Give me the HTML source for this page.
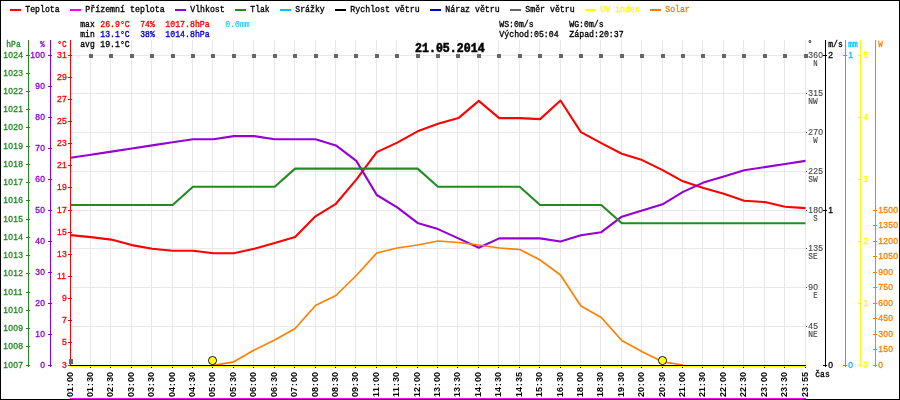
<!DOCTYPE html>
<html lang="cs"><head><meta charset="utf-8"><title>21.05.2014</title>
<style>html,body{margin:0;padding:0;background:#fff;width:900px;height:400px;overflow:hidden}svg{display:block}text{font-family:"Liberation Mono","DejaVu Sans Mono",monospace;font-size:9.4px;stroke-width:.35px;white-space:pre}.b{font-weight:bold;stroke-width:0}.n{font-family:"Liberation Sans","DejaVu Sans",sans-serif;font-size:8.5px;letter-spacing:.27px;stroke-width:.3px}.n.b{font-size:9px;letter-spacing:0;stroke-width:0}</style></head><body>
<svg width="900" height="400" viewBox="0 0 900 400">
<rect x="0" y="0" width="900" height="400" fill="#fff"/>
<path d="M90.5 40V365M110.5 40V365M131.5 40V365M151.5 40V365M172.5 40V365M192.5 40V365M212.5 40V365M233.5 40V365M253.5 40V365M274.5 40V365M294.5 40V365M315.5 40V365M335.5 40V365M355.5 40V365M376.5 40V365M396.5 40V365M417.5 40V365M437.5 40V365M457.5 40V365M478.5 40V365M498.5 40V365M519.5 40V365M539.5 40V365M560.5 40V365M580.5 40V365M600.5 40V365M621.5 40V365M641.5 40V365M662.5 40V365M682.5 40V365M702.5 40V365M723.5 40V365M743.5 40V365M764.5 40V365M784.5 40V365M805.5 40V365M70 55.5H806M70 93.5H806M70 132.5H806M70 171.5H806M70 210.5H806M70 248.5H806M70 287.5H806M70 326.5H806" stroke="#ebe6e7" stroke-width="1" fill="none" shape-rendering="crispEdges"/>
<rect x="70" y="398" width="736" height="1" fill="#ff00ff"/>
<polyline points="70.5,235.1 90.9,237.1 111.3,239.6 131.8,245.1 152.2,248.8 172.6,250.8 193.0,250.8 213.4,253.3 233.8,253.3 254.2,248.8 274.7,243.1 295.1,237.1 315.5,216.3 335.9,203.8 356.3,179.6 376.8,152.1 397.2,142.6 417.6,131.3 438.0,123.8 458.4,118.1 478.8,100.9 499.2,118.1 519.7,118.1 540.1,119.1 560.5,100.5 580.9,132.1 601.3,143.1 621.8,153.8 642.2,160.1 662.6,170.1 683.0,181.3 703.4,188.1 723.8,193.8 744.2,200.8 764.7,202.1 785.1,206.8 805.5,208.1" fill="none" stroke="#ff0000" stroke-width="2.1" stroke-linejoin="round"/>
<polyline points="70.5,157.8 90.9,154.7 111.3,151.6 131.8,148.5 152.2,145.4 172.6,142.3 193.0,139.2 213.4,139.2 233.8,136.1 254.2,136.1 274.7,139.2 295.1,139.2 315.5,139.2 335.9,145.4 356.3,160.9 376.8,195.0 397.2,207.4 417.6,222.9 438.0,229.1 458.4,238.4 478.8,247.7 499.2,238.4 519.7,238.4 540.1,238.4 560.5,241.5 580.9,235.3 601.3,232.2 621.8,216.7 642.2,210.5 662.6,204.3 683.0,191.9 703.4,182.6 723.8,176.4 744.2,170.2 764.7,167.1 785.1,164.0 805.5,160.9" fill="none" stroke="#9400d3" stroke-width="2.1" stroke-linejoin="round"/>
<polyline points="70.5,205.0 90.9,205.0 111.3,205.0 131.8,205.0 152.2,205.0 172.6,205.0 193.0,186.8 213.4,186.8 233.8,186.8 254.2,186.8 274.7,186.8 295.1,168.6 315.5,168.6 335.9,168.6 356.3,168.6 376.8,168.6 397.2,168.6 417.6,168.6 438.0,186.8 458.4,186.8 478.8,186.8 499.2,186.8 519.7,186.8 540.1,205.0 560.5,205.0 580.9,205.0 601.3,205.0 621.8,223.3 642.2,223.3 662.6,223.3 683.0,223.3 703.4,223.3 723.8,223.3 744.2,223.3 764.7,223.3 785.1,223.3 805.5,223.3" fill="none" stroke="#228b22" stroke-width="2.1" stroke-linejoin="round"/>
<polyline points="213.4,365.3 233.8,361.8 254.2,350.0 274.7,340.0 295.1,328.5 315.5,305.5 335.9,295.5 356.3,275.5 376.8,253.0 397.2,248.0 417.6,245.0 438.0,241.0 458.4,242.5 478.8,245.0 499.2,248.0 519.7,249.5 540.1,260.0 560.5,275.0 580.9,306.0 601.3,317.5 621.8,340.5 642.2,351.8 662.6,361.8 683.0,365.0" fill="none" stroke="#ff7f00" stroke-width="1.7" stroke-linejoin="round"/>
<path d="M90 367h1v1h-1zM110 367h1v1h-1zM131 367h1v1h-1zM151 367h1v1h-1zM172 367h1v1h-1zM192 367h1v1h-1zM212 367h1v1h-1zM233 367h1v1h-1zM253 367h1v1h-1zM274 367h1v1h-1zM294 367h1v1h-1zM315 367h1v1h-1zM335 367h1v1h-1zM355 367h1v1h-1zM376 367h1v1h-1zM396 367h1v1h-1zM417 367h1v1h-1zM437 367h1v1h-1zM457 367h1v1h-1zM478 367h1v1h-1zM498 367h1v1h-1zM519 367h1v1h-1zM539 367h1v1h-1zM560 367h1v1h-1zM580 367h1v1h-1zM600 367h1v1h-1zM621 367h1v1h-1zM641 367h1v1h-1zM662 367h1v1h-1zM682 367h1v1h-1zM702 367h1v1h-1zM723 367h1v1h-1zM743 367h1v1h-1zM764 367h1v1h-1zM784 367h1v1h-1zM805 367h1v1h-1z" fill="#000" shape-rendering="crispEdges"/>
<circle cx="212.5" cy="360.5" r="4" fill="#fff" stroke="#000" stroke-width="1"/><circle cx="212.5" cy="360.5" r="3.1" fill="#ffff00"/>
<circle cx="662.5" cy="360.5" r="4" fill="#fff" stroke="#000" stroke-width="1"/><circle cx="662.5" cy="360.5" r="3.1" fill="#ffff00"/>
<path d="M28.5 40V367M26 365.5H30M26 346.5H30M26 328.5H30M26 310.5H30M26 292.5H30M26 273.5H30M26 255.5H30M26 237.5H30M26 219.5H30M26 200.5H30M26 182.5H30M26 164.5H30M26 146.5H30M26 127.5H30M26 109.5H30M26 91.5H30M26 73.5H30M26 55.5H30" stroke="#228b22" stroke-width="1" fill="none" shape-rendering="crispEdges"/>
<text x="3.3" y="368" fill="#228b22" stroke="#228b22" class="n">1007</text>
<text x="3.3" y="349" fill="#228b22" stroke="#228b22" class="n">1008</text>
<text x="3.3" y="331" fill="#228b22" stroke="#228b22" class="n">1009</text>
<text x="3.3" y="313" fill="#228b22" stroke="#228b22" class="n">1010</text>
<text x="3.3" y="295" fill="#228b22" stroke="#228b22" class="n">1011</text>
<text x="3.3" y="276" fill="#228b22" stroke="#228b22" class="n">1012</text>
<text x="3.3" y="258" fill="#228b22" stroke="#228b22" class="n">1013</text>
<text x="3.3" y="240" fill="#228b22" stroke="#228b22" class="n">1014</text>
<text x="3.3" y="222" fill="#228b22" stroke="#228b22" class="n">1015</text>
<text x="3.3" y="203" fill="#228b22" stroke="#228b22" class="n">1016</text>
<text x="3.3" y="185" fill="#228b22" stroke="#228b22" class="n">1017</text>
<text x="3.3" y="167" fill="#228b22" stroke="#228b22" class="n">1018</text>
<text x="3.3" y="149" fill="#228b22" stroke="#228b22" class="n">1019</text>
<text x="3.3" y="130" fill="#228b22" stroke="#228b22" class="n">1020</text>
<text x="3.3" y="112" fill="#228b22" stroke="#228b22" class="n">1021</text>
<text x="3.3" y="94" fill="#228b22" stroke="#228b22" class="n">1022</text>
<text x="3.3" y="76" fill="#228b22" stroke="#228b22" class="n">1023</text>
<text x="3.3" y="58" fill="#228b22" stroke="#228b22" class="n">1024</text>
<path d="M50.5 40V367M48 365.5H52M48 334.5H52M48 303.5H52M48 272.5H52M48 241.5H52M48 210.5H52M48 179.5H52M48 148.5H52M48 117.5H52M48 86.5H52M48 55.5H52" stroke="#9400d3" stroke-width="1" fill="none" shape-rendering="crispEdges"/>
<text x="40.3" y="368" fill="#9400d3" stroke="#9400d3" class="n">0</text>
<text x="35.3" y="337" fill="#9400d3" stroke="#9400d3" class="n">10</text>
<text x="35.3" y="306" fill="#9400d3" stroke="#9400d3" class="n">20</text>
<text x="35.3" y="275" fill="#9400d3" stroke="#9400d3" class="n">30</text>
<text x="35.3" y="244" fill="#9400d3" stroke="#9400d3" class="n">40</text>
<text x="35.3" y="213" fill="#9400d3" stroke="#9400d3" class="n">50</text>
<text x="35.3" y="182" fill="#9400d3" stroke="#9400d3" class="n">60</text>
<text x="35.3" y="151" fill="#9400d3" stroke="#9400d3" class="n">70</text>
<text x="35.3" y="120" fill="#9400d3" stroke="#9400d3" class="n">80</text>
<text x="35.3" y="89" fill="#9400d3" stroke="#9400d3" class="n">90</text>
<text x="30.299999999999997" y="58" fill="#9400d3" stroke="#9400d3" class="n">100</text>
<path d="M70.5 40V367M68 365.5H72M68 342.5H72M68 320.5H72M68 298.5H72M68 276.5H72M68 254.5H72M68 232.5H72M68 210.5H72M68 187.5H72M68 165.5H72M68 143.5H72M68 121.5H72M68 99.5H72M68 77.5H72M68 55.5H72" stroke="#ff0000" stroke-width="1" fill="none" shape-rendering="crispEdges"/>
<text x="62" y="368" fill="#ff0000" stroke="#ff0000" class="n">3</text>
<text x="62" y="345" fill="#ff0000" stroke="#ff0000" class="n">5</text>
<text x="62" y="323" fill="#ff0000" stroke="#ff0000" class="n">7</text>
<text x="62" y="301" fill="#ff0000" stroke="#ff0000" class="n">9</text>
<text x="57" y="279" fill="#ff0000" stroke="#ff0000" class="n">11</text>
<text x="57" y="257" fill="#ff0000" stroke="#ff0000" class="n">13</text>
<text x="57" y="235" fill="#ff0000" stroke="#ff0000" class="n">15</text>
<text x="57" y="213" fill="#ff0000" stroke="#ff0000" class="n">17</text>
<text x="57" y="190" fill="#ff0000" stroke="#ff0000" class="n">19</text>
<text x="57" y="168" fill="#ff0000" stroke="#ff0000" class="n">21</text>
<text x="57" y="146" fill="#ff0000" stroke="#ff0000" class="n">23</text>
<text x="57" y="124" fill="#ff0000" stroke="#ff0000" class="n">25</text>
<text x="57" y="102" fill="#ff0000" stroke="#ff0000" class="n">27</text>
<text x="57" y="80" fill="#ff0000" stroke="#ff0000" class="n">29</text>
<text x="57" y="58" fill="#ff0000" stroke="#ff0000" class="n">31</text>
<text x="6.3" y="47" fill="#228b22" stroke="#228b22" textLength="14.4" lengthAdjust="spacingAndGlyphs">hPa</text>
<text x="40.3" y="47" fill="#9400d3" stroke="#9400d3" textLength="4.4" lengthAdjust="spacingAndGlyphs">%</text>
<text x="57.3" y="47" fill="#ff0000" stroke="#ff0000" textLength="9.4" lengthAdjust="spacingAndGlyphs">°C</text>
<path d="M825.5 40V367M823 55.5H827M823 210.5H827M823 365.5H827" stroke="#000000" stroke-width="1" fill="none" shape-rendering="crispEdges"/>
<text x="828.3" y="58" fill="#000000" stroke="#000000" class="n">2</text>
<text x="828.3" y="213" fill="#000000" stroke="#000000" class="n">1</text>
<text x="828.3" y="368" fill="#000000" stroke="#000000" class="n">0</text>
<path d="M845.5 40V367M843 55.5H847M843 365.5H847" stroke="#00bfff" stroke-width="1" fill="none" shape-rendering="crispEdges"/>
<text x="848.3" y="58" fill="#00bfff" stroke="#00bfff" class="n">1</text>
<text x="848.3" y="368" fill="#00bfff" stroke="#00bfff" class="n">0</text>
<path d="M860.5 40V367M858 365.5H862M858 303.5H862M858 241.5H862M858 179.5H862M858 117.5H862M858 55.5H862" stroke="#ffff00" stroke-width="1" fill="none" shape-rendering="crispEdges"/>
<text x="863.3" y="368" fill="#ffff00" stroke="#ffff00" class="n">0</text>
<text x="863.3" y="306" fill="#ffff00" stroke="#ffff00" class="n">1</text>
<text x="863.3" y="244" fill="#ffff00" stroke="#ffff00" class="n">2</text>
<text x="863.3" y="182" fill="#ffff00" stroke="#ffff00" class="n">3</text>
<text x="863.3" y="120" fill="#ffff00" stroke="#ffff00" class="n">4</text>
<text x="863.3" y="58" fill="#ffff00" stroke="#ffff00" class="n">5</text>
<path d="M875.5 40V367M873 365.5H877M873 349.5H877M873 334.5H877M873 318.5H877M873 303.5H877M873 287.5H877M873 272.5H877M873 256.5H877M873 241.5H877M873 225.5H877M873 210.5H877" stroke="#ff7f00" stroke-width="1" fill="none" shape-rendering="crispEdges"/>
<text x="878.3" y="368" fill="#ff7f00" stroke="#ff7f00" class="n">0</text>
<text x="878.3" y="352" fill="#ff7f00" stroke="#ff7f00" class="n">150</text>
<text x="878.3" y="337" fill="#ff7f00" stroke="#ff7f00" class="n">300</text>
<text x="878.3" y="321" fill="#ff7f00" stroke="#ff7f00" class="n">450</text>
<text x="878.3" y="306" fill="#ff7f00" stroke="#ff7f00" class="n">600</text>
<text x="878.3" y="290" fill="#ff7f00" stroke="#ff7f00" class="n">750</text>
<text x="878.3" y="275" fill="#ff7f00" stroke="#ff7f00" class="n">900</text>
<text x="878.3" y="259" fill="#ff7f00" stroke="#ff7f00" class="n">1050</text>
<text x="878.3" y="244" fill="#ff7f00" stroke="#ff7f00" class="n">1200</text>
<text x="878.3" y="228" fill="#ff7f00" stroke="#ff7f00" class="n">1350</text>
<text x="878.3" y="213" fill="#ff7f00" stroke="#ff7f00" class="n">1500</text>
<text x="828.3" y="47" fill="#000000" stroke="#000000" textLength="14.4" lengthAdjust="spacingAndGlyphs">m/s</text>
<text x="848.3" y="47" fill="#00bfff" stroke="#00bfff" textLength="9.4" lengthAdjust="spacingAndGlyphs">mm</text>
<text x="878.3" y="47" fill="#ff7f00" stroke="#ff7f00" textLength="4.4" lengthAdjust="spacingAndGlyphs">W</text>
<text x="808.3" y="58" fill="#444444" stroke="#444444" class="n" style="stroke-width:.12px">360</text>
<text x="813.3" y="66" fill="#444444" stroke="#444444" textLength="4.4" lengthAdjust="spacingAndGlyphs" style="stroke-width:.15px">N</text>
<text x="808.3" y="96" fill="#444444" stroke="#444444" class="n" style="stroke-width:.12px">315</text>
<text x="808.3" y="104" fill="#444444" stroke="#444444" textLength="9.4" lengthAdjust="spacingAndGlyphs" style="stroke-width:.15px">NW</text>
<text x="808.3" y="135" fill="#444444" stroke="#444444" class="n" style="stroke-width:.12px">270</text>
<text x="813.3" y="143" fill="#444444" stroke="#444444" textLength="4.4" lengthAdjust="spacingAndGlyphs" style="stroke-width:.15px">W</text>
<text x="808.3" y="174" fill="#444444" stroke="#444444" class="n" style="stroke-width:.12px">225</text>
<text x="808.3" y="182" fill="#444444" stroke="#444444" textLength="9.4" lengthAdjust="spacingAndGlyphs" style="stroke-width:.15px">SW</text>
<text x="808.3" y="213" fill="#444444" stroke="#444444" class="n" style="stroke-width:.12px">180</text>
<text x="813.3" y="221" fill="#444444" stroke="#444444" textLength="4.4" lengthAdjust="spacingAndGlyphs" style="stroke-width:.15px">S</text>
<text x="808.3" y="251" fill="#444444" stroke="#444444" class="n" style="stroke-width:.12px">135</text>
<text x="808.3" y="259" fill="#444444" stroke="#444444" textLength="9.4" lengthAdjust="spacingAndGlyphs" style="stroke-width:.15px">SE</text>
<text x="808.3" y="290" fill="#444444" stroke="#444444" class="n" style="stroke-width:.12px">90</text>
<text x="813.3" y="298" fill="#444444" stroke="#444444" textLength="4.4" lengthAdjust="spacingAndGlyphs" style="stroke-width:.15px">E</text>
<text x="808.3" y="329" fill="#444444" stroke="#444444" class="n" style="stroke-width:.12px">45</text>
<text x="808.3" y="337" fill="#444444" stroke="#444444" textLength="9.4" lengthAdjust="spacingAndGlyphs" style="stroke-width:.15px">NE</text>
<path d="M806 93h1v1h-1zM806 132h1v1h-1zM806 171h1v1h-1zM806 210h1v1h-1zM806 248h1v1h-1zM806 287h1v1h-1zM806 326h1v1h-1z" fill="#333" shape-rendering="crispEdges"/>
<text x="808.3" y="46.6" class="n" fill="#444444" stroke="#444444">°</text>
<rect x="70" y="366" width="736" height="1" fill="#ffff00"/>
<rect x="70" y="365" width="736" height="1" fill="#000"/>
<path d="M89 54h4v4h-4zM109 54h4v4h-4zM130 54h4v4h-4zM150 54h4v4h-4zM171 54h4v4h-4zM191 54h4v4h-4zM211 54h4v4h-4zM232 54h4v4h-4zM252 54h4v4h-4zM273 54h4v4h-4zM293 54h4v4h-4zM314 54h4v4h-4zM334 54h4v4h-4zM354 54h4v4h-4zM375 54h4v4h-4zM395 54h4v4h-4zM416 54h4v4h-4zM436 54h4v4h-4zM456 54h4v4h-4zM477 54h4v4h-4zM497 54h4v4h-4zM518 54h4v4h-4zM538 54h4v4h-4zM559 54h4v4h-4zM579 54h4v4h-4zM599 54h4v4h-4zM620 54h4v4h-4zM640 54h4v4h-4zM661 54h4v4h-4zM681 54h4v4h-4zM701 54h4v4h-4zM722 54h4v4h-4zM742 54h4v4h-4zM763 54h4v4h-4zM783 54h4v4h-4zM804 54h4v4h-4zM69 359h4v5h-4z" fill="#666666" shape-rendering="crispEdges"/>
<rect x="10" y="9" width="11" height="2" fill="#ff0000"/>
<text x="25.3" y="12" fill="#000000" stroke="#000000" textLength="34.4" lengthAdjust="spacingAndGlyphs">Teplota</text>
<rect x="70" y="9" width="11" height="2" fill="#ff00ff"/>
<text x="85.3" y="12" fill="#000000" stroke="#000000" textLength="79.4" lengthAdjust="spacingAndGlyphs">Přízemní teplota</text>
<rect x="175" y="9" width="11" height="2" fill="#9400d3"/>
<text x="190.3" y="12" fill="#000000" stroke="#000000" textLength="34.4" lengthAdjust="spacingAndGlyphs">Vlhkost</text>
<rect x="235" y="9" width="11" height="2" fill="#228b22"/>
<text x="250.3" y="12" fill="#000000" stroke="#000000" textLength="19.4" lengthAdjust="spacingAndGlyphs">Tlak</text>
<rect x="280" y="9" width="11" height="2" fill="#00bfff"/>
<text x="295.3" y="12" fill="#000000" stroke="#000000" textLength="29.4" lengthAdjust="spacingAndGlyphs">Srážky</text>
<rect x="335" y="9" width="11" height="2" fill="#000000"/>
<text x="350.3" y="12" fill="#000000" stroke="#000000" textLength="69.4" lengthAdjust="spacingAndGlyphs">Rychlost větru</text>
<rect x="430" y="9" width="11" height="2" fill="#0000cd"/>
<text x="445.3" y="12" fill="#000000" stroke="#000000" textLength="54.4" lengthAdjust="spacingAndGlyphs">Náraz větru</text>
<rect x="510" y="9" width="11" height="2" fill="#666666"/>
<text x="525.3" y="12" fill="#000000" stroke="#000000" textLength="49.4" lengthAdjust="spacingAndGlyphs">Směr větru</text>
<rect x="585" y="9" width="11" height="2" fill="#ffff00"/>
<text x="600.3" y="12" fill="#ffff00" stroke="#ffff00" textLength="39.4" lengthAdjust="spacingAndGlyphs">UV index</text>
<rect x="650" y="9" width="11" height="2" fill="#ff7f00"/>
<text x="665.3" y="12" fill="#ff7f00" stroke="#ff7f00" textLength="24.4" lengthAdjust="spacingAndGlyphs">Solar</text>
<text x="80.3" y="27" fill="#000000" stroke="#000000" textLength="14.4" lengthAdjust="spacingAndGlyphs">max</text>
<text x="100.3" y="27" fill="#ff0000" stroke="#ff0000" textLength="29.4" lengthAdjust="spacingAndGlyphs">26.9°C</text>
<text x="140.3" y="27" fill="#ff0000" stroke="#ff0000" textLength="14.4" lengthAdjust="spacingAndGlyphs">74%</text>
<text x="165.3" y="27" fill="#ff0000" stroke="#ff0000" textLength="44.4" lengthAdjust="spacingAndGlyphs">1017.8hPa</text>
<text x="225.3" y="27" fill="#00bfff" stroke="#00bfff" textLength="24.4" lengthAdjust="spacingAndGlyphs" style="stroke-width:.1px">0.0mm</text>
<text x="80.3" y="37" fill="#000000" stroke="#000000" textLength="14.4" lengthAdjust="spacingAndGlyphs">min</text>
<text x="100.3" y="37" fill="#0000cd" stroke="#0000cd" textLength="29.4" lengthAdjust="spacingAndGlyphs">13.1°C</text>
<text x="140.3" y="37" fill="#0000cd" stroke="#0000cd" textLength="14.4" lengthAdjust="spacingAndGlyphs">38%</text>
<text x="165.3" y="37" fill="#0000cd" stroke="#0000cd" textLength="44.4" lengthAdjust="spacingAndGlyphs">1014.8hPa</text>
<text x="80.3" y="47" fill="#000000" stroke="#000000" textLength="14.4" lengthAdjust="spacingAndGlyphs">avg</text>
<text x="100.3" y="47" fill="#000000" stroke="#000000" textLength="29.4" lengthAdjust="spacingAndGlyphs">19.1°C</text>
<text x="499.3" y="27" fill="#000000" stroke="#000000" textLength="34.4" lengthAdjust="spacingAndGlyphs">WS:0m/s</text>
<text x="569.3" y="27" fill="#000000" stroke="#000000" textLength="34.4" lengthAdjust="spacingAndGlyphs">WG:0m/s</text>
<text x="499.3" y="37" fill="#000000" stroke="#000000" textLength="59.4" lengthAdjust="spacingAndGlyphs">Východ:05:04</text>
<text x="569.3" y="37" fill="#000000" stroke="#000000" textLength="54.4" lengthAdjust="spacingAndGlyphs">Západ:20:37</text>
<text x="415" y="51.8" class="b" fill="#000" stroke="#000" style="font-size:12.4px;stroke-width:.55px" textLength="69.6" lengthAdjust="spacingAndGlyphs">21.05.2014</text>
<text transform="translate(73.2 397) rotate(-90)" class="n b" fill="#000" x="0 5 11 15 20">01:00</text>
<text transform="translate(93.2 397) rotate(-90)" class="n b" fill="#000" x="0 5 11 15 20">01:30</text>
<text transform="translate(113.2 397) rotate(-90)" class="n b" fill="#000" x="0 5 11 15 20">02:30</text>
<text transform="translate(134.2 397) rotate(-90)" class="n b" fill="#000" x="0 5 11 15 20">03:00</text>
<text transform="translate(154.2 397) rotate(-90)" class="n b" fill="#000" x="0 5 11 15 20">03:30</text>
<text transform="translate(175.2 397) rotate(-90)" class="n b" fill="#000" x="0 5 11 15 20">04:00</text>
<text transform="translate(195.2 397) rotate(-90)" class="n b" fill="#000" x="0 5 11 15 20">04:30</text>
<text transform="translate(215.2 397) rotate(-90)" class="n b" fill="#000" x="0 5 11 15 20">05:00</text>
<text transform="translate(236.2 397) rotate(-90)" class="n b" fill="#000" x="0 5 11 15 20">05:30</text>
<text transform="translate(256.2 397) rotate(-90)" class="n b" fill="#000" x="0 5 11 15 20">06:00</text>
<text transform="translate(277.2 397) rotate(-90)" class="n b" fill="#000" x="0 5 11 15 20">06:30</text>
<text transform="translate(297.2 397) rotate(-90)" class="n b" fill="#000" x="0 5 11 15 20">07:00</text>
<text transform="translate(318.2 397) rotate(-90)" class="n b" fill="#000" x="0 5 11 15 20">08:00</text>
<text transform="translate(338.2 397) rotate(-90)" class="n b" fill="#000" x="0 5 11 15 20">08:30</text>
<text transform="translate(358.2 397) rotate(-90)" class="n b" fill="#000" x="0 5 11 15 20">09:30</text>
<text transform="translate(379.2 397) rotate(-90)" class="n b" fill="#000" x="0 5 11 15 20">11:00</text>
<text transform="translate(399.2 397) rotate(-90)" class="n b" fill="#000" x="0 5 11 15 20">11:30</text>
<text transform="translate(420.2 397) rotate(-90)" class="n b" fill="#000" x="0 5 11 15 20">12:00</text>
<text transform="translate(440.2 397) rotate(-90)" class="n b" fill="#000" x="0 5 11 15 20">13:00</text>
<text transform="translate(460.2 397) rotate(-90)" class="n b" fill="#000" x="0 5 11 15 20">13:30</text>
<text transform="translate(481.2 397) rotate(-90)" class="n b" fill="#000" x="0 5 11 15 20">14:00</text>
<text transform="translate(501.2 397) rotate(-90)" class="n b" fill="#000" x="0 5 11 15 20">14:30</text>
<text transform="translate(522.2 397) rotate(-90)" class="n b" fill="#000" x="0 5 11 15 20">14:35</text>
<text transform="translate(542.2 397) rotate(-90)" class="n b" fill="#000" x="0 5 11 15 20">15:30</text>
<text transform="translate(563.2 397) rotate(-90)" class="n b" fill="#000" x="0 5 11 15 20">16:30</text>
<text transform="translate(583.2 397) rotate(-90)" class="n b" fill="#000" x="0 5 11 15 20">18:00</text>
<text transform="translate(603.2 397) rotate(-90)" class="n b" fill="#000" x="0 5 11 15 20">18:30</text>
<text transform="translate(624.2 397) rotate(-90)" class="n b" fill="#000" x="0 5 11 15 20">19:30</text>
<text transform="translate(644.2 397) rotate(-90)" class="n b" fill="#000" x="0 5 11 15 20">20:00</text>
<text transform="translate(665.2 397) rotate(-90)" class="n b" fill="#000" x="0 5 11 15 20">20:30</text>
<text transform="translate(685.2 397) rotate(-90)" class="n b" fill="#000" x="0 5 11 15 20">21:00</text>
<text transform="translate(705.2 397) rotate(-90)" class="n b" fill="#000" x="0 5 11 15 20">21:30</text>
<text transform="translate(726.2 397) rotate(-90)" class="n b" fill="#000" x="0 5 11 15 20">22:00</text>
<text transform="translate(746.2 397) rotate(-90)" class="n b" fill="#000" x="0 5 11 15 20">22:30</text>
<text transform="translate(767.2 397) rotate(-90)" class="n b" fill="#000" x="0 5 11 15 20">23:00</text>
<text transform="translate(787.2 397) rotate(-90)" class="n b" fill="#000" x="0 5 11 15 20">23:30</text>
<text transform="translate(808.2 397) rotate(-90)" class="n b" fill="#000" x="0 5 11 15 20">23:55</text>
<text x="815.3" y="377" fill="#000000" stroke="#000000" textLength="14.4" lengthAdjust="spacingAndGlyphs">čas</text>
<path d="M0.5 0.5H899.5V399.5H0.5z" fill="none" stroke="#000" stroke-width="1" shape-rendering="crispEdges"/>
</svg></body></html>
